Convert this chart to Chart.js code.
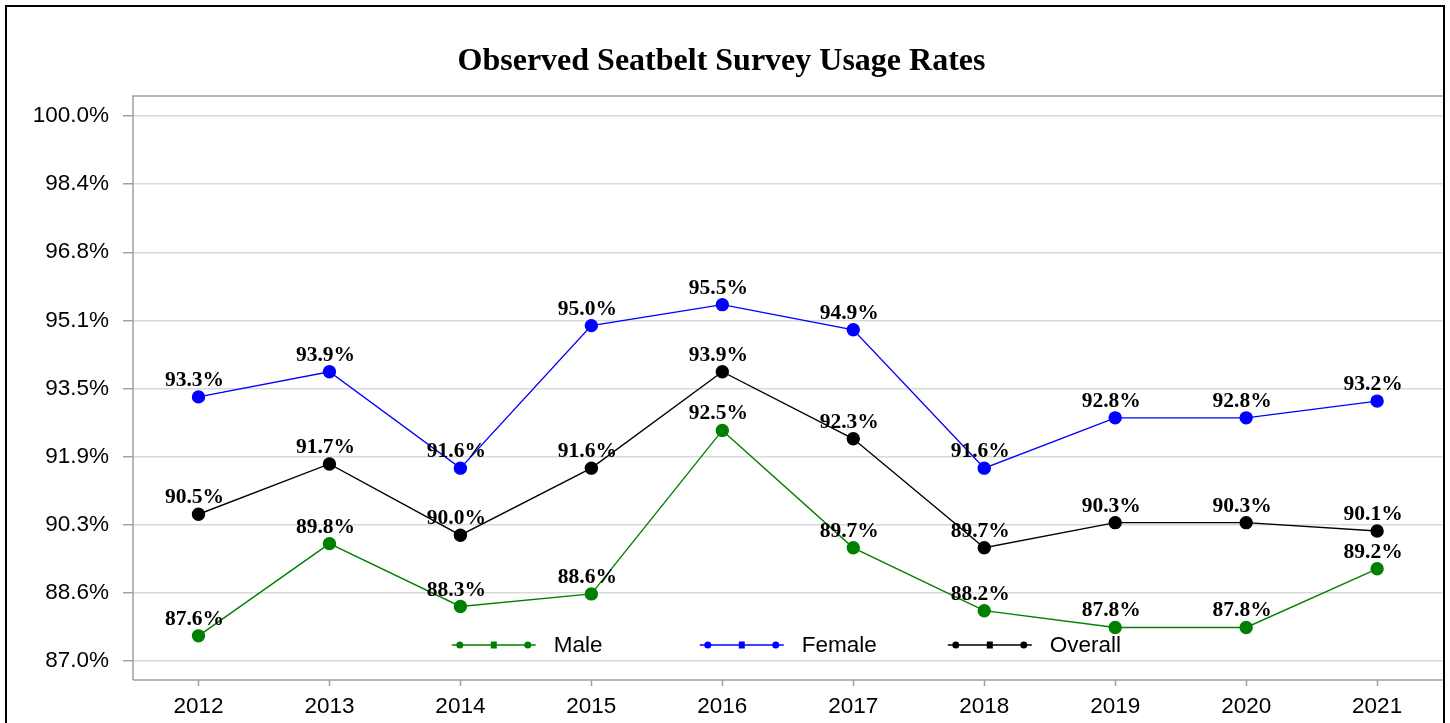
<!DOCTYPE html>
<html>
<head>
<meta charset="utf-8">
<title>Observed Seatbelt Survey Usage Rates</title>
<script src="https://cdn.jsdelivr.net/npm/chart.js@4.4.1/dist/chart.umd.min.js"></script>
<style>
  html, body { margin: 0; padding: 0; background: #ffffff; }
  #wrap { width: 1450px; height: 723px; position: relative; }
</style>
</head>
<body>
<div id="wrap"><canvas id="c" width="1450" height="723"></canvas></div>
<script>
// Survey years
const years = ['2012', '2013', '2014', '2015', '2016', '2017', '2018', '2019', '2020', '2021'];

// Observed usage rates (%)
const maleRates    = [87.6, 89.8, 88.3, 88.6, 92.5, 89.7, 88.2, 87.8, 87.8, 89.2];
const femaleRates  = [93.3, 93.9, 91.6, 95.0, 95.5, 94.9, 91.6, 92.8, 92.8, 93.2];
const overallRates = [90.5, 91.7, 90.0, 91.6, 93.9, 92.3, 89.7, 90.3, 90.3, 90.1];

// Value axis range and step
const yMin = 87.0;
const yMax = 100.0;
const yStep = 1.625;

const seriesNames  = ['Male', 'Female', 'Overall'];
const seriesColors = ['#008000', '#0000ff', '#000000'];

const SANS = '"Liberation Sans", Arial, sans-serif';
const SERIF = '"Liberation Serif", "Times New Roman", serif';

// The plot frame sits a little outside the value range
const FRAME_TOP_GAP = 20;
const FRAME_BOTTOM_GAP = 19;

// Outer border, plot frame and category tick marks
const framePlugin = {
  id: 'frame',
  beforeDraw(chart) {
    const ctx = chart.ctx;
    ctx.save();
    ctx.fillStyle = '#ffffff';
    ctx.fillRect(0, 0, chart.width, chart.height);
    ctx.restore();
  },
  afterDraw(chart) {
    const ctx = chart.ctx;
    const a = chart.chartArea;
    const top = a.top - FRAME_TOP_GAP;
    const bottom = a.bottom + FRAME_BOTTOM_GAP;
    ctx.save();
    ctx.strokeStyle = '#a0a0a0';
    ctx.lineWidth = 1.5;
    ctx.beginPath();
    ctx.moveTo(a.left, bottom);
    ctx.lineTo(a.left, top);
    ctx.lineTo(a.right, top);
    ctx.moveTo(a.left, bottom);
    ctx.lineTo(a.right, bottom);
    // category tick marks below the frame
    const xs = chart.scales.x;
    xs.ticks.forEach((t, i) => {
      const px = Math.round(xs.getPixelForTick(i)) + 0.5;
      ctx.moveTo(px, bottom);
      ctx.lineTo(px, bottom + 6);
    });
    ctx.stroke();
    ctx.strokeStyle = '#000000';
    ctx.lineWidth = 2;
    ctx.strokeRect(6, 6, chart.width - 12, chart.height + 20);
    ctx.restore();
  }
};

// Value labels above each point
const valueLabelPlugin = {
  id: 'valueLabels',
  afterDatasetsDraw(chart) {
    const ctx = chart.ctx;
    ctx.save();
    ctx.font = 'bold 21.5px ' + SERIF;
    ctx.fillStyle = '#000000';
    ctx.textAlign = 'center';
    ctx.textBaseline = 'alphabetic';
    chart.data.datasets.forEach((ds, di) => {
      const meta = chart.getDatasetMeta(di);
      meta.data.forEach((pt, i) => {
        ctx.fillText(ds.data[i].toFixed(1) + '%', pt.x - 4, pt.y - 11);
      });
    });
    ctx.restore();
  }
};

// Legend drawn inside the plot area, along the bottom
const insideLegendPlugin = {
  id: 'insideLegend',
  afterDraw(chart) {
    const ctx = chart.ctx;
    const a = chart.chartArea;
    const cx = (a.left + a.right) / 2;
    const y = a.bottom - 16;
    const pitch = 248;
    const lineLen = 84;
    const x0 = cx - 336;
    ctx.save();
    ctx.font = '22.5px ' + SANS;
    ctx.textBaseline = 'middle';
    ctx.textAlign = 'left';
    chart.data.datasets.forEach((ds, i) => {
      const x = x0 + i * pitch;
      ctx.strokeStyle = ds.borderColor;
      ctx.fillStyle = ds.borderColor;
      ctx.lineWidth = 1.5;
      ctx.beginPath();
      ctx.moveTo(x, y);
      ctx.lineTo(x + lineLen, y);
      ctx.stroke();
      [x + 8, x + lineLen - 8].forEach(px => {
        ctx.beginPath();
        ctx.arc(px, y, 3.5, 0, Math.PI * 2);
        ctx.fill();
      });
      ctx.fillRect(x + lineLen / 2 - 3, y - 3.5, 6, 7);
      ctx.fillStyle = '#000000';
      ctx.fillText(ds.label, x + lineLen + 18, y + 1);
    });
    ctx.restore();
  }
};

const allSeries = [maleRates, femaleRates, overallRates];

new Chart(document.getElementById('c'), {
  type: 'line',
  data: {
    labels: years,
    datasets: allSeries.map((vals, i) => ({
      label: seriesNames[i],
      data: vals,
      borderColor: seriesColors[i],
      backgroundColor: seriesColors[i],
      pointBackgroundColor: seriesColors[i],
      pointBorderColor: seriesColors[i],
      borderWidth: 1.4,
      pointRadius: 6,
      pointHoverRadius: 6,
      tension: 0,
      fill: false,
      clip: false
    }))
  },
  options: {
    responsive: false,
    animation: false,
    events: [],
    layout: { padding: { left: 0, right: 7, top: 0, bottom: 0 } },
    plugins: {
      legend: { display: false },
      tooltip: { enabled: false },
      title: {
        display: true,
        text: 'Observed Seatbelt Survey Usage Rates',
        color: '#000000',
        font: { family: SERIF, size: 32, weight: 'bold', lineHeight: 1.2 },
        padding: { top: 43, bottom: 34.6 }
      }
    },
    scales: {
      x: {
        type: 'category',
        offset: true,
        border: { display: false },
        grid: {
          offset: false,
          drawOnChartArea: false,
          drawTicks: false
        },
        ticks: {
          color: '#000000',
          font: { family: SANS, size: 22.5 },
          padding: 32,
          maxRotation: 0
        },
        afterFit(scale) { scale.height = 62; }
      },
      y: {
        min: yMin,
        max: yMax,
        border: { display: false },
        grid: {
          color: '#d9d9d9',
          lineWidth: 1.5,
          drawTicks: true,
          tickLength: 10,
          tickColor: '#a0a0a0'
        },
        ticks: {
          stepSize: yStep,
          color: '#000000',
          font: { family: SANS, size: 22.5 },
          padding: 14,
          callback: v => v.toFixed(1) + '%'
        },
        afterFit(scale) { scale.width = 133; }
      }
    }
  },
  plugins: [framePlugin, valueLabelPlugin, insideLegendPlugin]
});
</script>
</body>
</html>
